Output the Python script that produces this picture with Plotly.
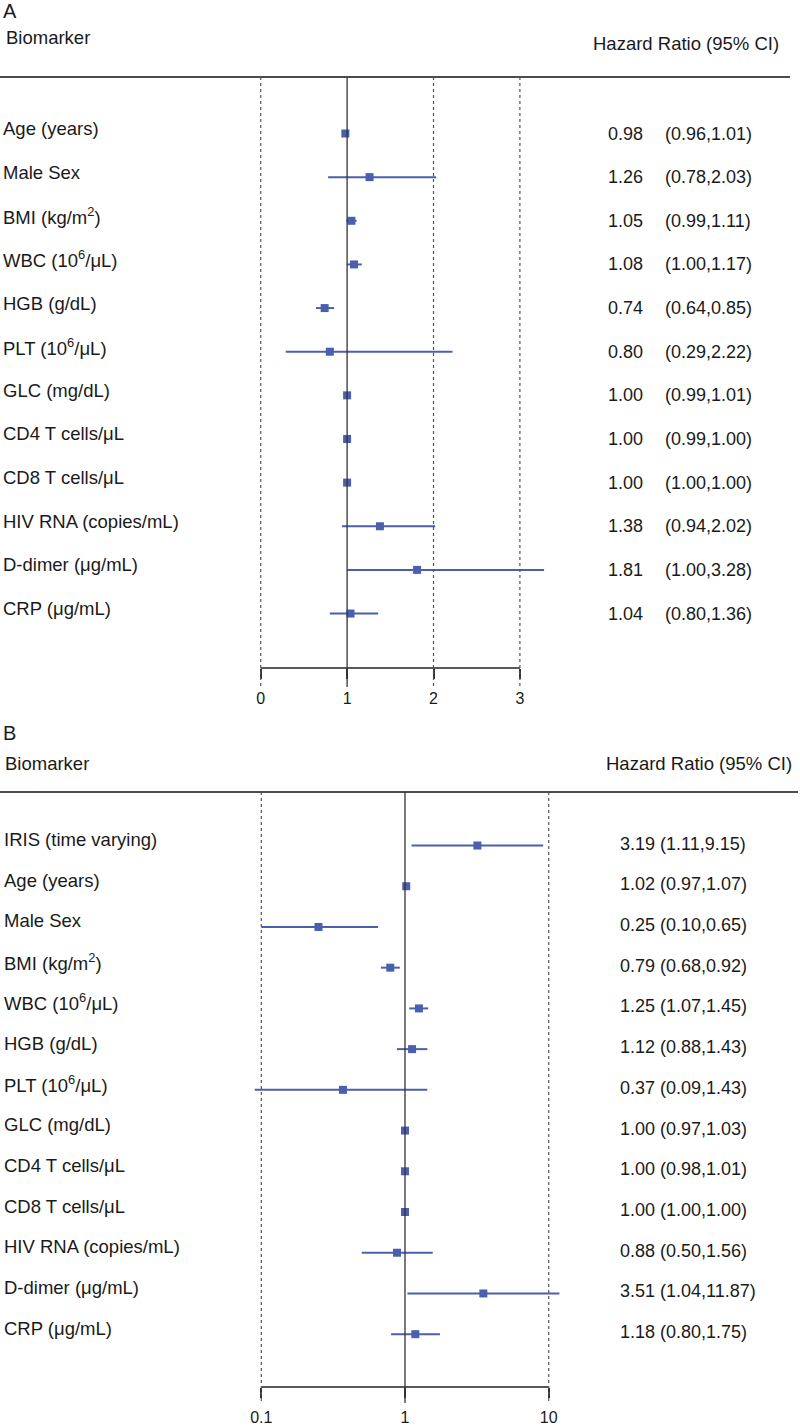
import plotly.graph_objects as go
import numpy as np

# ---------------- Data ----------------
labels_a = ["Age (years)", "Male Sex", "BMI (kg/m<sup>2</sup>)", "WBC (10<sup>6</sup>/μL)",
            "HGB (g/dL)", "PLT (10<sup>6</sup>/μL)", "GLC (mg/dL)", "CD4 T cells/μL",
            "CD8 T cells/μL", "HIV RNA (copies/mL)", "D-dimer (μg/mL)", "CRP (μg/mL)"]
hr_a = [0.98, 1.26, 1.05, 1.08, 0.74, 0.80, 1.00, 1.00, 1.00, 1.38, 1.81, 1.04]
lo_a = [0.96, 0.78, 0.99, 1.00, 0.64, 0.29, 0.99, 0.99, 1.00, 0.94, 1.00, 0.80]
hi_a = [1.01, 2.03, 1.11, 1.17, 0.85, 2.22, 1.01, 1.00, 1.00, 2.02, 3.28, 1.36]
ticks_a = [0, 1, 2, 3]

labels_b = ["IRIS (time varying)", "Age (years)", "Male Sex", "BMI (kg/m<sup>2</sup>)",
            "WBC (10<sup>6</sup>/μL)", "HGB (g/dL)", "PLT (10<sup>6</sup>/μL)", "GLC (mg/dL)",
            "CD4 T cells/μL", "CD8 T cells/μL", "HIV RNA (copies/mL)", "D-dimer (μg/mL)",
            "CRP (μg/mL)"]
hr_b = [3.19, 1.02, 0.25, 0.79, 1.25, 1.12, 0.37, 1.00, 1.00, 1.00, 0.88, 3.51, 1.18]
lo_b = [1.11, 0.97, 0.10, 0.68, 1.07, 0.88, 0.09, 0.97, 0.98, 1.00, 0.50, 1.04, 0.80]
hi_b = [9.15, 1.07, 0.65, 0.92, 1.45, 1.43, 1.43, 1.03, 1.01, 1.00, 1.56, 11.87, 1.75]
ticks_b = [0.1, 1, 10]
ticktext_b = ["0.1", "1", "10"]

# ---------------- Layout constants (pixels) ----------------
W, H = 800, 1426
FONT = "Arial, Liberation Sans, sans-serif"
BLUE = "#4b5fae"
TXT = "#1a1a1a"

def py(px):
    return 1 - px / H

# Panel A geometry
a_head, a_axis = 77, 669
a_row0, a_step = 133.7, 43.7
a_x0, a_scale = 260.7, 86.4
# Panel B geometry
b_head, b_axis = 793, 1389
b_row0, b_step = 846.7, 40.78
b_x1, b_scale = 405.0, 143.7

rows_a = list(range(len(labels_a)))
rows_b = list(range(len(labels_b)))

fig = go.Figure()

fig.add_trace(go.Scatter(
    x=hr_a, y=rows_a, mode="markers", xaxis="x", yaxis="y",
    marker=dict(symbol="square", size=8, color=BLUE),
    error_x=dict(type="data", symmetric=False,
                 array=list(np.array(hi_a) - np.array(hr_a)),
                 arrayminus=list(np.array(hr_a) - np.array(lo_a)),
                 color=BLUE, thickness=2, width=0),
    hoverinfo="skip"))

fig.add_trace(go.Scatter(
    x=hr_b, y=rows_b, mode="markers", xaxis="x2", yaxis="y2",
    marker=dict(symbol="square", size=8, color=BLUE),
    error_x=dict(type="data", symmetric=False,
                 array=list(np.array(hi_b) - np.array(hr_b)),
                 arrayminus=list(np.array(hr_b) - np.array(lo_b)),
                 color=BLUE, thickness=2, width=0),
    hoverinfo="skip"))

shapes = []
# Header lines
shapes.append(dict(type="line", xref="paper", yref="paper", x0=0, x1=790 / W,
                   y0=py(a_head), y1=py(a_head), line=dict(color="#111", width=1.5)))
shapes.append(dict(type="line", xref="paper", yref="paper", x0=0, x1=798 / W,
                   y0=py(b_head), y1=py(b_head), line=dict(color="#111", width=1.5)))
# Axis lines
shapes.append(dict(type="line", xref="x", yref="paper", x0=ticks_a[0], x1=ticks_a[-1],
                   y0=py(a_axis), y1=py(a_axis), line=dict(color="#222", width=1.5)))
shapes.append(dict(type="line", xref="x2", yref="paper", x0=ticks_b[0], x1=ticks_b[-1],
                   y0=py(b_axis), y1=py(b_axis), line=dict(color="#222", width=1.5)))
# Reference lines panel A
for t in ticks_a:
    if t == 1:
        shapes.append(dict(type="line", xref="x", yref="paper", x0=t, x1=t,
                           y0=py(a_head), y1=py(688), line=dict(color="#333", width=1.3)))
    else:
        shapes.append(dict(type="line", xref="x", yref="paper", x0=t, x1=t,
                           y0=py(a_head), y1=py(690), line=dict(color="#555", width=1.2, dash="dot")))
# Reference lines panel B
for t in ticks_b:
    if t == 1:
        shapes.append(dict(type="line", xref="x2", yref="paper", x0=t, x1=t,
                           y0=py(b_head), y1=py(1405), line=dict(color="#333", width=1.3)))
    else:
        shapes.append(dict(type="line", xref="x2", yref="paper", x0=t, x1=t,
                           y0=py(b_head), y1=py(1405), line=dict(color="#555", width=1.2, dash="dot")))

ann = []
def txt(x, y, s, size, xanchor="left", yref="paper", yshift=0):
    ann.append(dict(x=x, y=y, xref="paper", yref=yref, text=s, showarrow=False,
                    xanchor=xanchor, yanchor="middle", yshift=yshift,
                    font=dict(family=FONT, size=size, color=TXT)))

# Headers
txt(1 / W, py(11.5), "A", 20)
txt(4 / W, py(38), "Biomarker", 18.5)
txt(591 / W, py(44), "Hazard Ratio (95% CI)", 18.5)
txt(1 / W, py(734), "B", 20)
txt(3 / W, py(765), "Biomarker", 18.5)
txt(604 / W, py(765), "Hazard Ratio (95% CI)", 18.5)

# Row labels and values, panel A
for r, lab, h, l, u in zip(rows_a, labels_a, hr_a, lo_a, hi_a):
    txt(1 / W, r, lab, 18.5, yref="y", yshift=5)
    txt(606 / W, r, f"{h:.2f}", 18, yref="y", yshift=0)
    txt(663 / W, r, f"({l:.2f},{u:.2f})", 18, yref="y", yshift=0)

# Row labels and values, panel B
for r, lab, h, l, u in zip(rows_b, labels_b, hr_b, lo_b, hi_b):
    txt(2 / W, r, lab, 18.5, yref="y2", yshift=6)
    txt(618 / W, r, f"{h:.2f} ({l:.2f},{u:.2f})", 18, yref="y2", yshift=2)

axis_common = dict(showgrid=False, zeroline=False, showline=False, ticks="outside",
                   ticklen=10, tickwidth=1.5, tickcolor="#333",
                   tickfont=dict(family=FONT, size=16, color=TXT), fixedrange=True)

fig.update_layout(
    width=W, height=H, margin=dict(l=0, r=0, t=0, b=0),
    paper_bgcolor="white", plot_bgcolor="white", showlegend=False,
    xaxis=dict(domain=[0, 1], anchor="y",
               range=[-a_x0 / a_scale, (W - a_x0) / a_scale],
               tickmode="array", tickvals=ticks_a, ticktext=[str(t) for t in ticks_a],
               ticklabelstandoff=6, **axis_common),
    yaxis=dict(domain=[py(a_axis), py(a_head)], anchor="x",
               range=[(a_axis - a_row0) / a_step, (a_head - a_row0) / a_step],
               visible=False, fixedrange=True),
    xaxis2=dict(domain=[0, 1], anchor="y2", type="log",
                range=[-b_x1 / b_scale, (W - b_x1) / b_scale],
                tickmode="array", tickvals=ticks_b, ticktext=ticktext_b,
                ticklabelstandoff=6, **axis_common),
    yaxis2=dict(domain=[py(b_axis), py(b_head)], anchor="x2",
                range=[(b_axis - b_row0) / b_step, (b_head - b_row0) / b_step],
                visible=False, fixedrange=True),
    shapes=shapes, annotations=ann,
)

fig.write_html("out.html", config={"displayModeBar": False},
               post_script="document.body.style.margin='0px';document.body.style.padding='0px';document.body.style.overflow='hidden';")
